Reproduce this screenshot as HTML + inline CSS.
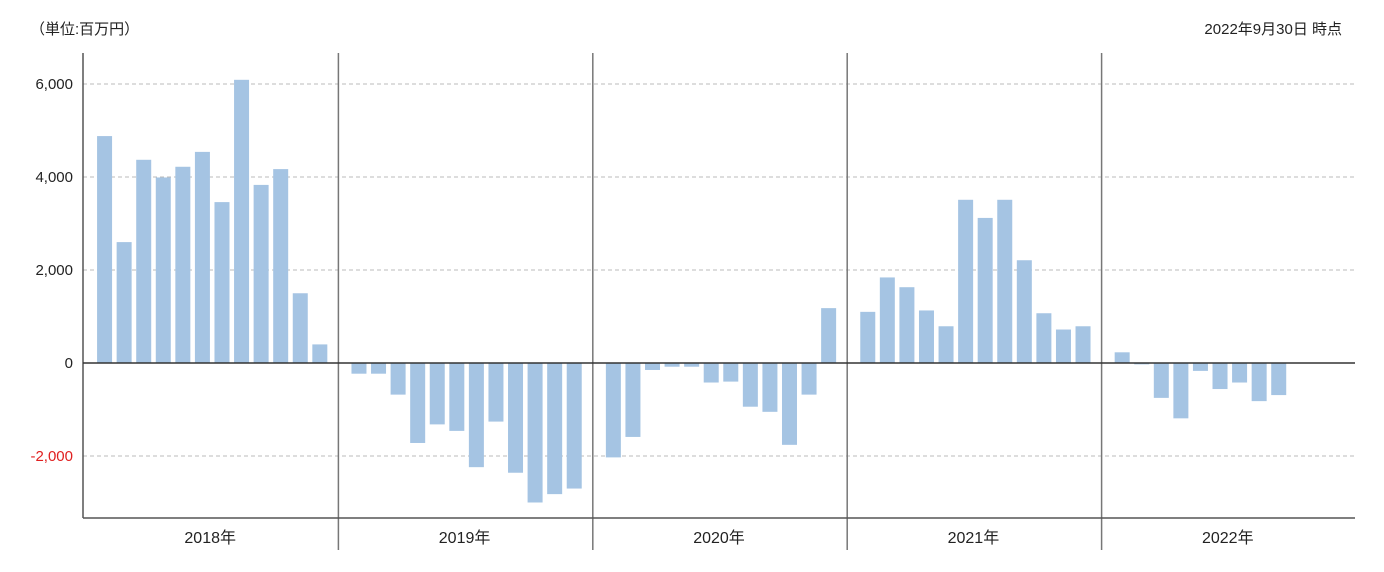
<!DOCTYPE html>
<html><head><meta charset="utf-8">
<style>
html,body{margin:0;padding:0;background:#fff;}
body{width:1384px;height:567px;overflow:hidden;font-family:"Liberation Sans","Noto Sans CJK JP",sans-serif;}
</style></head>
<body>
<svg id="chart" width="1384" height="567" xmlns="http://www.w3.org/2000/svg" style="font-family:'Liberation Sans','Noto Sans CJK JP',sans-serif">
<text x="30" y="34" font-size="15" fill="#222">（単位:百万円）</text>
<text x="1342" y="34" font-size="15" fill="#222" text-anchor="end">2022年9月30日 時点</text>
<g id="grid"></g><g id="bars"></g><g id="axes"></g>
</svg>
<script>
const years = ["2018年","2019年","2020年","2021年","2022年"];
const v2018 = [4880,2600,4370,3990,4220,4540,3460,6090,3830,4170,1500,400];
const v2019 = [-230,-230,-680,-1720,-1320,-1460,-2240,-1260,-2360,-3000,-2820,-2700];
const v2020 = [-2030,-1590,-150,-80,-80,-420,-400,-940,-1050,-1760,-680,1180];
const v2021 = [1100,1840,1630,1130,790,3510,3120,3510,2210,1070,720,790];
const v2022 = [230,-30,-750,-1190,-170,-560,-420,-820,-690];
const tickValues = [6000,4000,2000,0,-2000];
const tickLabels = ["6,000","4,000","2,000","0","-2,000"];
const series = [v2018,v2019,v2020,v2021,v2022];
const NS="http://www.w3.org/2000/svg";
const x0=83,x1=1355,yTop=53,yBot=518,zeroY=363,pxPer=93/2000;
const yearW=(x1-x0)/years.length, slot=yearW/13, bw=15;
const y=v=>zeroY-v*pxPer;
const xBar=(yi,mi)=>x0+yi*yearW+slot*(mi+1)+2;
function mk(tag,attrs,parent){const e=document.createElementNS(NS,tag);for(const k in attrs)e.setAttribute(k,attrs[k]);parent.appendChild(e);return e;}
const grid=document.getElementById('grid'),bars=document.getElementById('bars'),axes=document.getElementById('axes');
tickValues.forEach((t,i)=>{
  if(t!==0){const l=mk('line',{x1:x0,x2:x1,y1:y(t),y2:y(t),stroke:'#bbb','stroke-dasharray':'4,3'},grid);
  
  }
  const tx=mk('text',{x:73,y:y(t)+5,'font-size':15,'text-anchor':'end',fill:t<0?'#e02020':'#222'},axes);
  tx.textContent=tickLabels[i];
  
  
});
series.forEach((arr,yi)=>{
  arr.forEach((v,mi)=>{
    const cx=xBar(yi,mi);
    const r=mk('rect',{x:cx-bw/2,y:Math.min(y(v),zeroY),width:bw,height:Math.abs(y(v)-zeroY),fill:'#a5c4e3'},bars);
    
    
  });
  const lab=mk('text',{x:x0+yi*yearW+yearW/2,y:543,'font-size':16,'text-anchor':'middle',fill:'#222'},axes);
  lab.textContent=years[yi];
  
  
  if(yi>0){const s=mk('line',{x1:x0+yi*yearW+1,x2:x0+yi*yearW+1,y1:yTop,y2:550,stroke:'#777','stroke-width':1.5},axes);
  
  }
});
const ax=mk('line',{x1:x0,x2:x0,y1:yTop,y2:yBot,stroke:'#555','stroke-width':1.5},axes);


const bx=mk('line',{x1:x0,x2:x1,y1:yBot,y2:yBot,stroke:'#555','stroke-width':1.5},axes);


const zl=mk('line',{x1:x0,x2:x1,y1:zeroY,y2:zeroY,stroke:'#333','stroke-width':1.5},axes);


</script>
</body></html>
